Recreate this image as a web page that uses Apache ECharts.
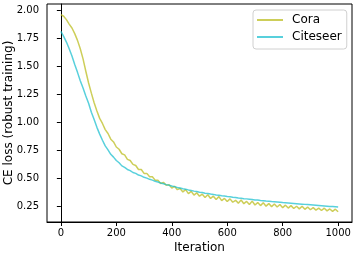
<!DOCTYPE html>
<html>
<head>
<meta charset="utf-8">
<script src="https://cdn.jsdelivr.net/npm/echarts@6/dist/echarts.min.js"></script>
<style>html,body{margin:0;padding:0;background:#fff}#c{width:357px;height:255px}</style>
</head>
<body>
<div id="c"></div>
<script>
const iterations = [0,10,20,30,40,50,60,70,80,90,100,110,120,130,140,150,160,170,180,190,200,210,220,230,240,250,260,270,280,290,300,310,320,330,340,350,360,370,380,390,400,410,420,430,440,450,460,470,480,490,500,510,520,530,540,550,560,570,580,590,600,610,620,630,640,650,660,670,680,690,700,710,720,730,740,750,760,770,780,790,800,810,820,830,840,850,860,870,880,890,900,910,920,930,940,950,960,970,980,990,1000];
const cora = [1.96,1.945,1.915,1.875,1.84,1.79,1.73,1.655,1.565,1.455,1.35,1.26,1.175,1.10,1.035,0.99,0.935,0.90,0.85,0.825,0.78,0.76,0.72,0.71,0.67,0.66,0.625,0.615,0.58,0.58,0.545,0.545,0.515,0.515,0.485,0.485,0.455,0.465,0.44,0.445,0.415,0.43,0.40,0.41,0.38,0.40,0.365,0.385,0.352,0.372,0.342,0.36,0.33,0.355,0.322,0.342,0.312,0.338,0.302,0.322,0.294,0.318,0.288,0.305,0.28,0.308,0.275,0.295,0.268,0.298,0.263,0.285,0.258,0.283,0.253,0.276,0.249,0.272,0.245,0.268,0.24,0.262,0.236,0.258,0.232,0.252,0.229,0.252,0.225,0.245,0.221,0.24,0.218,0.236,0.214,0.235,0.211,0.228,0.207,0.226,0.203];
const citeseer = [1.81,1.765,1.715,1.655,1.59,1.515,1.445,1.37,1.305,1.235,1.17,1.09,1.025,0.955,0.895,0.84,0.79,0.755,0.715,0.69,0.66,0.64,0.612,0.598,0.58,0.57,0.553,0.545,0.53,0.523,0.51,0.503,0.492,0.485,0.475,0.468,0.46,0.453,0.445,0.44,0.432,0.427,0.42,0.415,0.408,0.404,0.398,0.393,0.387,0.383,0.378,0.374,0.369,0.366,0.361,0.358,0.353,0.35,0.346,0.343,0.339,0.336,0.332,0.33,0.326,0.323,0.32,0.318,0.315,0.312,0.309,0.307,0.304,0.302,0.299,0.297,0.294,0.292,0.29,0.288,0.285,0.283,0.281,0.279,0.277,0.275,0.273,0.271,0.269,0.267,0.265,0.263,0.261,0.259,0.257,0.255,0.253,0.251,0.249,0.247,0.245];
const xTicks = [0,200,400,600,800,1000];
const yTicks = [0.25,0.5,0.75,1.0,1.25,1.5,1.75,2.0];
const seriesNames = ['Cora','Citeseer'];

const font = 'DejaVu Sans';
const chart = echarts.init(document.getElementById('c'), null, {renderer:'canvas'});
const pair = (ys) => iterations.map((x,i)=>[x, ys[i]]);
chart.setOption({
  animation:false,
  backgroundColor:'#fff',
  grid:{left:47,right:5,top:4,bottom:33,containLabel:false,outerBoundsMode:'none',show:true,borderColor:'#000',borderWidth:1,backgroundColor:'transparent'},
  legend:{
    orient:'vertical', left:253, top:10,
    padding:[4,5,6,4], itemGap:5, itemWidth:26, itemHeight:2, icon:'rect',
    backgroundColor:'rgba(255,255,255,0.8)', borderColor:'#d0d0d0', borderWidth:1, borderRadius:3,
    textStyle:{fontFamily:font,fontSize:12,color:'#000',padding:[0,0,0,4]},
    data:seriesNames
  },
  xAxis:{
    type:'value', min:-50, max:1050,
    name:'Iteration', nameLocation:'middle', nameGap:20, nameMoveOverlap:false,
    nameTextStyle:{fontFamily:font,fontSize:12,color:'#000'},
    axisLine:{show:true,lineStyle:{color:'#000',width:1}},
    axisTick:{show:true,length:4,lineStyle:{color:'#000'},customValues:xTicks},
    axisLabel:{fontFamily:font,fontSize:10,color:'#000',margin:6,customValues:xTicks,formatter:v=>String(v)},
    splitLine:{show:false}
  },
  yAxis:{
    type:'value', min:0.112, max:2.054,
    name:'CE loss (robust training)', nameLocation:'middle', nameGap:32, nameMoveOverlap:false,
    nameTextStyle:{fontFamily:font,fontSize:12,color:'#000'},
    axisLine:{show:true,lineStyle:{color:'#000',width:1}},
    axisTick:{show:true,length:4,lineStyle:{color:'#000'},customValues:yTicks},
    axisLabel:{fontFamily:font,fontSize:10,color:'#000',margin:8,customValues:yTicks,formatter:v=>v.toFixed(2)},
    splitLine:{show:false}
  },
  series:[
    {name:seriesNames[0],type:'line',symbol:'none',data:pair(cora),color:'rgba(188,189,34,0.75)',lineStyle:{width:1.5,color:'rgba(188,189,34,0.75)'}},
    {name:seriesNames[1],type:'line',symbol:'none',data:pair(citeseer),color:'rgba(23,190,207,0.72)',lineStyle:{width:1.5,color:'rgba(23,190,207,0.72)'}}
  ]
});
</script>
</body>
</html>
